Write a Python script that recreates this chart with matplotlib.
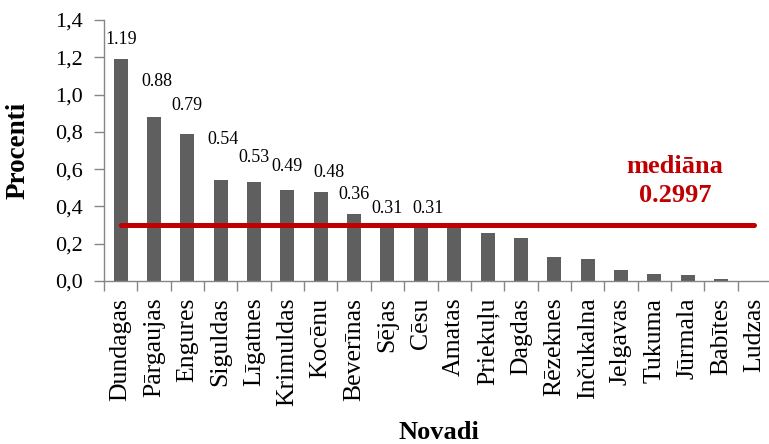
import matplotlib
matplotlib.use("Agg")
import matplotlib.pyplot as plt
from matplotlib.ticker import FixedLocator, FuncFormatter, MultipleLocator

plt.rcParams["font.family"] = ["Liberation Serif", "DejaVu Serif"]

# Novadi un to vērtības (procenti)
novadi = ["Dundagas", "Pārgaujas", "Engures", "Siguldas", "Līgatnes", "Krimuldas",
          "Kocēnu", "Beverīnas", "Sējas", "Cēsu", "Amatas", "Priekuļu", "Dagdas",
          "Rēzeknes", "Inčukalna", "Jelgavas", "Tukuma", "Jūrmala", "Babītes", "Ludzas"]
procenti = [1.19, 0.88, 0.79, 0.54, 0.53, 0.49, 0.48, 0.36, 0.31, 0.31,
            0.30, 0.26, 0.23, 0.13, 0.12, 0.06, 0.04, 0.03, 0.01, 0.0]
mediana = 0.2997

# kuriem stabiņiem ir datu etiķetes
n_labels = 10
# etiķešu nobīdes pikseļos (x, y virs stabiņa)
label_offsets = [(0.5, 15.5), (3, 31), (0, 24), (2.5, 36.5), (0, 20),
                 (0, 18.5), (8, 14.5), (0, 15), (0, 10), (7, 10)]

grey = "#868686"
red = "#C00000"

fig = plt.figure(figsize=(7.69, 4.44), dpi=100)
ax = fig.add_axes([104 / 769, 163 / 444, 667 / 769, 261 / 444])

x = list(range(len(novadi)))
ax.bar(x, procenti, width=0.42, color="#5f5f5f", zorder=2)
ax.plot([x[0], x[-1]], [mediana, mediana], color=red, linewidth=3.6,
        solid_capstyle="round", zorder=3)

for i in range(n_labels):
    dx, dy = label_offsets[i]
    ax.annotate(f"{procenti[i]:.2f}", (x[i], procenti[i]), xytext=(dx, dy),
                textcoords="offset pixels", ha="center", va="baseline",
                fontsize=13, zorder=4)

ax.text(16.62, 0.581, "mediāna", color=red, fontsize=19, fontweight="bold",
        ha="center", va="baseline")
ax.text(16.62, 0.422, f"{mediana:.4f}", color=red, fontsize=19, fontweight="bold",
        ha="center", va="baseline")

ax.set_xlim(-0.5, len(novadi) - 0.5)
ax.set_ylim(0, 1.4)

ax.yaxis.set_major_locator(MultipleLocator(0.2))
ax.yaxis.set_major_formatter(FuncFormatter(lambda v, p: f"{v:.1f}".replace(".", ",")))
ax.tick_params(axis="y", direction="out", length=7, width=1, color=grey,
               labelsize=16, pad=8)

ax.set_xticks(x)
ax.set_xticklabels(novadi, rotation=90, fontsize=18.5)
ax.xaxis.set_minor_locator(FixedLocator([i - 0.5 for i in range(len(novadi) + 1)]))
ax.tick_params(axis="x", which="major", length=0, pad=12)
ax.tick_params(axis="x", which="minor", direction="out", length=7, width=1, color=grey)

for side in ["top", "right"]:
    ax.spines[side].set_visible(False)
for side in ["left", "bottom"]:
    ax.spines[side].set_color(grey)
    ax.spines[side].set_linewidth(1)

fig.text(18.5 / 769, 1 - 150 / 444, "Procenti", rotation=90, fontsize=19.5,
         fontweight="bold", ha="center", va="center")
fig.text(438.5 / 769, 5 / 444, "Novadi", fontsize=19, fontweight="bold",
         ha="center", va="baseline")

fig.savefig("out.png", dpi=100)
